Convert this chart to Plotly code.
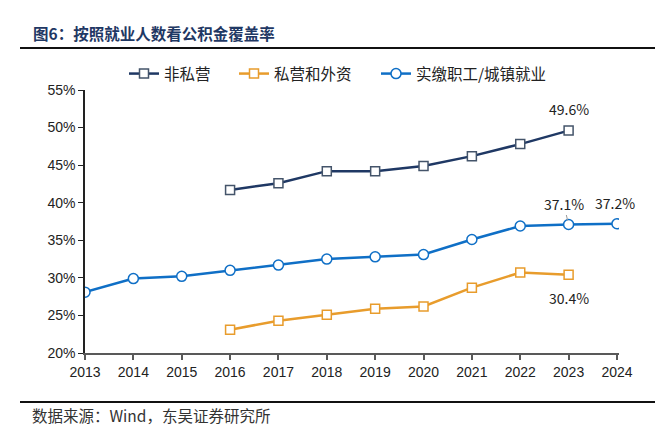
import plotly.graph_objects as go

years_all = [2013, 2014, 2015, 2016, 2017, 2018, 2019, 2020, 2021, 2022, 2023, 2024]
years_nonpriv = [2016, 2017, 2018, 2019, 2020, 2021, 2022, 2023]
nonpriv = [41.7, 42.6, 44.2, 44.2, 44.9, 46.2, 47.8, 49.6]
years_priv = [2016, 2017, 2018, 2019, 2020, 2021, 2022, 2023]
priv = [23.1, 24.3, 25.1, 25.9, 26.2, 28.7, 30.7, 30.4]
years_urban = years_all
urban = [28.1, 29.9, 30.2, 31.0, 31.7, 32.5, 32.8, 33.1, 35.1, 36.9, 37.1, 37.2]
yticks = [20, 25, 30, 35, 40, 45, 50, 55]

NAVY = "#1f3864"
ORANGE = "#e89c2c"
BLUE = "#0f6fc6"

# figure is rendered with an 8px page offset; work in figure pixel coords
FW, FH = 655, 428
L, T, W, H = 77, 82, 534, 263
PX_PER_YEAR = 48.36

fig = go.Figure()
fig.add_trace(go.Scatter(
    x=years_nonpriv, y=nonpriv, name="非私营", mode="lines+markers", legend="legend",
    line=dict(color=NAVY, width=2.5),
    marker=dict(symbol="square", size=9, color="white", line=dict(color="#44546a", width=1.5)),
))
fig.add_trace(go.Scatter(
    x=years_priv, y=priv, name="私营和外资", mode="lines+markers", legend="legend2",
    line=dict(color=ORANGE, width=2.5),
    marker=dict(symbol="square", size=9, color="white", line=dict(color=ORANGE, width=1.5)),
))
fig.add_trace(go.Scatter(
    x=years_urban, y=urban, name="实缴职工/城镇就业", mode="lines+markers", legend="legend3",
    line=dict(color=BLUE, width=2.5),
    marker=dict(symbol="circle", size=10, color="white", line=dict(color=BLUE, width=1.5)),
))

def px(x):
    return (x - L) / W
def py(y):
    return (T + H - y) / H

ann_font = dict(family="Noto Sans CJK SC", size=14, color="#222222")
annotations = [
    dict(x=years_nonpriv[-1], y=nonpriv[-1], xref="x", yref="y", text=f"{nonpriv[-1]}%",
         showarrow=False, yshift=22, font=ann_font),
    dict(x=years_urban[-2], y=urban[-2], xref="x", yref="y", text=f"{urban[-2]}%",
         showarrow=True, arrowhead=0, arrowwidth=1, arrowcolor="#999999",
         ax=-5, ay=-21, standoff=4, font=ann_font),
    dict(x=years_urban[-1], y=urban[-1], xref="x", yref="y", text=f"{urban[-1]}%",
         showarrow=False, yshift=21, xshift=-2, font=ann_font),
    dict(x=years_priv[-1], y=priv[-1], xref="x", yref="y", text=f"{priv[-1]}%",
         showarrow=False, yshift=-23, font=ann_font),
    dict(x=px(23), y=py(25), xref="paper", yref="paper", xanchor="left", yanchor="middle",
         text="<b>图6：按照就业人数看公积金覆盖率</b>", showarrow=False,
         font=dict(family="Noto Sans CJK SC", size=15.5, color=NAVY)),
    dict(x=px(22), y=py(407), xref="paper", yref="paper", xanchor="left", yanchor="middle",
         text="数据来源：Wind，东吴证券研究所", showarrow=False,
         font=dict(family="Noto Sans CJK SC", size=15.5, color="#333333")),
]

shapes = [
    dict(type="line", xref="paper", yref="paper", x0=px(12), x1=px(FW), y0=py(40), y1=py(40),
         line=dict(color="#111111", width=2)),
    dict(type="line", xref="paper", yref="paper", x0=px(12), x1=px(FW), y0=py(394), y1=py(394),
         line=dict(color="#111111", width=2)),
]

leg_common = dict(orientation="h", yanchor="middle", y=py(66), xanchor="left",
                  font=dict(family="Noto Sans CJK SC", size=15.5, color="#222222"),
                  itemwidth=30, bgcolor="rgba(0,0,0,0)")

fig.update_layout(
    width=FW, height=FH,
    margin=dict(l=L, r=FW - L - W, t=T, b=FH - T - H, autoexpand=False),
    paper_bgcolor="white", plot_bgcolor="white",
    showlegend=True,
    legend=dict(leg_common, x=px(116)),
    legend2=dict(leg_common, x=px(226)),
    legend3=dict(leg_common, x=px(368)),
    annotations=annotations,
    shapes=shapes,
    xaxis=dict(range=[2013, 2013 + W / PX_PER_YEAR], tickmode="array", tickvals=years_all,
               ticktext=[str(y) for y in years_all],
               showgrid=False, zeroline=False, showline=True, linecolor="#595959", linewidth=2,
               ticks="outside", ticklen=5, tickcolor="#595959", tickwidth=1.5,
               tickfont=dict(family="Liberation Sans", size=14, color="#222222")),
    yaxis=dict(range=[20, 55], tickmode="array", tickvals=yticks,
               ticktext=[f"{v}%" for v in yticks],
               showgrid=False, zeroline=False, showline=True, linecolor="#222222", linewidth=1.5,
               ticks="outside", ticklen=5, tickcolor="#222222",
               tickfont=dict(family="Liberation Sans", size=14, color="#222222")),
)

fig.write_html("out.html")
